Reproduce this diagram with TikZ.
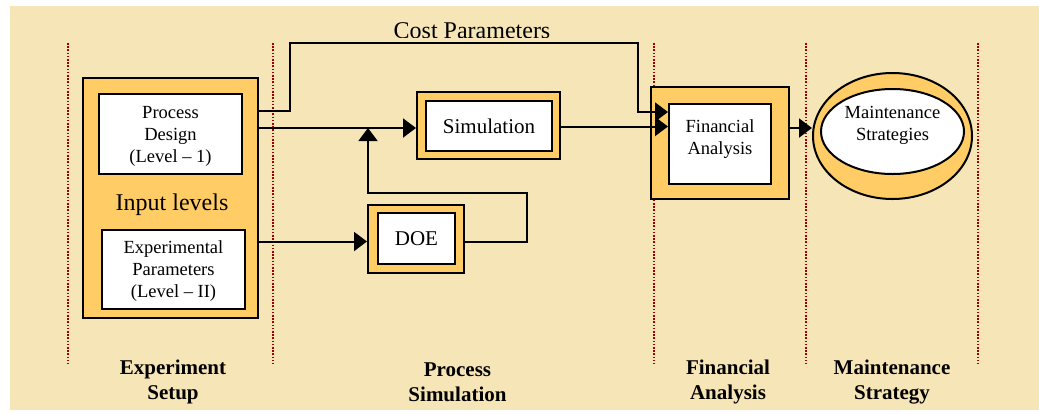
\documentclass[tikz,border=0pt]{standalone}
\usepackage{fontspec}
\setmainfont{Liberation Serif}
\usetikzlibrary{arrows.meta,shapes.geometric}
\definecolor{bgc}{HTML}{F6E5B6}
\definecolor{orng}{HTML}{FFCC66}
\definecolor{dotc}{HTML}{A00000}
\tikzset{
  outerbox/.style={draw=black, fill=orng, line width=2pt, inner sep=0pt},
  innerbox/.style={draw=black, fill=white, line width=2pt, inner sep=0pt, align=center},
  sep/.style={draw=dotc, line width=1.6pt, dash pattern=on 1.6pt off 1.6pt},
  conn/.style={draw=black, line width=2pt},
  arr/.style={conn, -{Triangle[length=13pt,width=19pt]}},
  boxtxt/.style={font=\fontsize{18.5}{22}\selectfont, align=center},
  bigtxt/.style={font=\fontsize{21}{24}\selectfont, align=center},
  phase/.style={font=\fontsize{21}{24.5}\selectfont\bfseries, align=center},
}
\begin{document}
\begin{tikzpicture}[x=1pt,y=-1pt]
\useasboundingbox (0,0) rectangle (1039,413);
\fill[bgc] (10,6) rectangle (1039,410);
% separators
\foreach \xx in {68,273,654,806,978} \draw[sep] (\xx,43) -- (\xx,364);
% Experiment setup
\node[outerbox, minimum width=175pt, minimum height=240pt] (setup) at (170.5,198) {};
\node[innerbox, minimum width=143pt, minimum height=80pt] (pd) at (170.5,134) {};
\node[boxtxt] (pdt) at (170.5,136) {Process\\Design\\(Level -- 1)};
\node[font=\fontsize{24}{26}\selectfont] (inl) at (172,205) {Input levels};
\node[innerbox, minimum width=143pt, minimum height=79pt] (ep) at (173.5,269.5) {};
\node[boxtxt] (ept) at (173.5,271) {Experimental\\Parameters\\(Level -- II)};
% Simulation
\node[outerbox, minimum width=143pt, minimum height=67pt] (simo) at (488.5,125.5) {};
\node[innerbox, minimum width=126pt, minimum height=50pt, font=\fontsize{21}{24}\selectfont] (sim) at (489,126) {Simulation};
% DOE
\node[outerbox, minimum width=96pt, minimum height=68pt] (doeo) at (416,239) {};
\node[innerbox, minimum width=77pt, minimum height=51pt, font=\fontsize{21}{24}\selectfont] (doe) at (416.5,238.5) {DOE};
% Financial
\node[outerbox, minimum width=138pt, minimum height=112pt] (fino) at (720,143) {};
\node[innerbox, minimum width=102pt, minimum height=80pt] (fin) at (720,144) {};
\node[boxtxt] (fint) at (720,139) {Financial\\Analysis};
% Maintenance
\node[ellipse, outerbox, minimum width=159pt, minimum height=126pt] (mso) at (892.5,136) {};
\node[ellipse, innerbox, minimum width=143pt, minimum height=85pt] (ms) at (892.5,131.5) {};
\node[boxtxt] (mst) at (892.5,125) {Maintenance\\Strategies};
% cost parameters label
\begin{scope}
\clip (350,0) rectangle (620,37.2);
\node[font=\fontsize{24}{26}\selectfont, anchor=base] (cost) at (472,38.5) {Cost Parameters};
\end{scope}
% connectors
\coordinate (c1) at (290,111);
\coordinate (c2) at (290,43);
\coordinate (c3) at (638,43);
\coordinate (c4) at (638,112);
\draw[arr] (setup.east |- c1) -- (c1) -- (c2) -- (c3) -- (c4) -- (fin.west |- c4);
\coordinate (m1) at (0,128);
\draw[arr] (setup.east |- m1) -- (simo.west |- m1);
\coordinate (d1) at (0,241.5);
\draw[arr] (setup.east |- d1) -- (doeo.west |- d1);
\coordinate (l1) at (527,241.5);
\coordinate (l2) at (527,193);
\coordinate (l3) at (368,193);
\coordinate (l4) at (368,128);
\draw[arr] (doeo.east |- l1) -- (l1) -- (l2) -- (l3) -- (l4);
\coordinate (s1) at (0,126.5);
\draw[arr] (simo.east |- s1) -- (fin.west |- s1);
\coordinate (f1) at (0,128);
\draw[arr] (fino.east |- f1) -- (mso.west |- f1);
% phase labels
\node[phase] (p1) at (173,382) {Experiment\\Setup};
\node[phase] (p2) at (457.5,382) {Process\\Simulation};
\node[phase] (p3) at (728,382) {Financial\\Analysis};
\node[phase] (p4) at (892,382) {Maintenance\\Strategy};
\end{tikzpicture}
\end{document}
